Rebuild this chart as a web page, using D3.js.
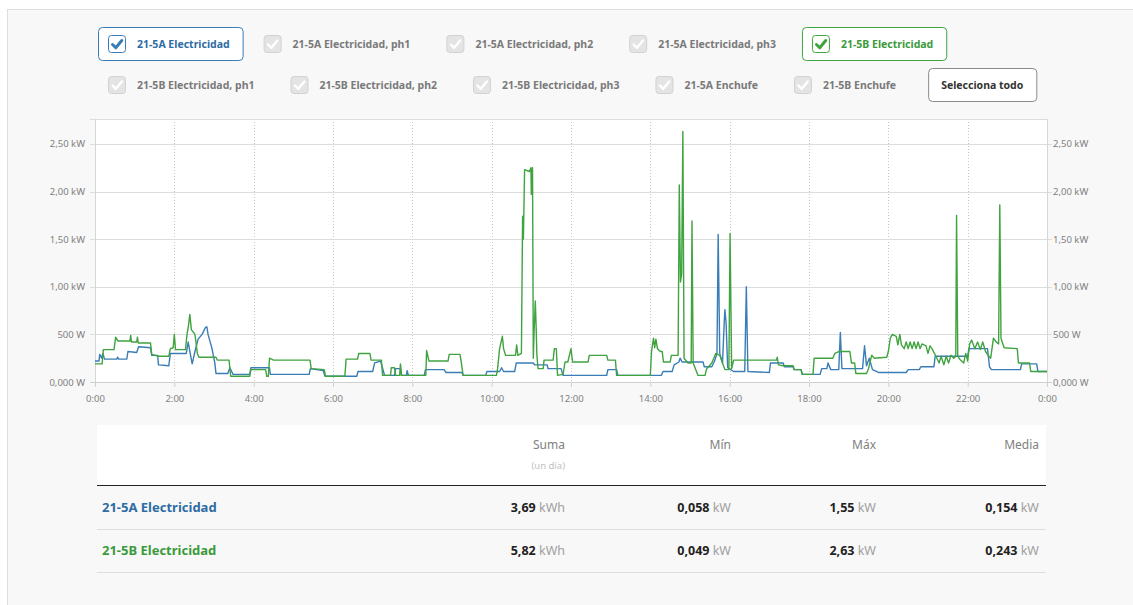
<!DOCTYPE html>
<html>
<head>
<meta charset="utf-8">
<script src="https://cdn.jsdelivr.net/npm/d3@7"></script>
<style>
  html, body { margin: 0; padding: 0; background: #fff; }
  svg { display: block; font-family: "Noto Sans", "Open Sans", sans-serif; }
</style>
</head>
<body>
<svg id="chart" width="1133" height="605"></svg>
<script>
// ---- Series shown in the selector ----
const legendItems = [
  "21-5A Electricidad", "21-5A Electricidad, ph1", "21-5A Electricidad, ph2",
  "21-5A Electricidad, ph3", "21-5B Electricidad",
  "21-5B Electricidad, ph1", "21-5B Electricidad, ph2", "21-5B Electricidad, ph3",
  "21-5A Enchufe", "21-5B Enchufe"
];
const activeSeries = ["21-5A Electricidad", "21-5B Electricidad"];
const selectAllLabel = "Selecciona todo";

// ---- 21-5A Electricidad: hour of day, power in kW ----
const hoursA = [0.00,0.10,0.12,0.17,0.20,0.24,0.55,0.57,0.60,0.80,0.83,1.05,1.10,1.40,1.43,1.58,1.60,1.86,1.90,2.30,
  2.35,2.40,2.45,2.52,2.60,2.70,2.78,2.82,2.85,2.95,3.02,3.05,3.35,3.40,3.48,3.90,3.93,4.40,4.42,5.40,
  5.43,5.75,5.80,6.60,6.63,7.00,7.05,7.20,7.30,7.55,7.58,7.70,7.72,7.85,7.87,7.90,8.30,8.33,8.80,8.85,
  9.25,9.28,9.85,9.88,10.20,10.25,10.30,10.58,10.62,11.05,11.08,11.40,11.42,11.75,11.80,12.90,12.93,13.15,13.18,14.28,
  14.32,14.55,14.60,14.72,14.75,14.80,15.33,15.36,15.55,15.62,15.68,15.71,15.75,15.82,15.86,15.88,15.91,15.95,16.10,16.38,
  16.42,16.46,17.00,17.03,17.35,17.38,17.60,17.62,17.80,17.83,18.28,18.32,18.45,18.48,18.55,18.75,18.79,18.83,19.35,19.40,
  19.45,19.52,19.60,19.75,20.45,20.50,20.78,20.82,21.15,21.18,22.00,22.03,22.50,22.55,22.60,23.33,23.36,23.74,23.77,24.00];
const kwA = [0.22,0.22,0.29,0.25,0.30,0.24,0.24,0.26,0.24,0.24,0.32,0.31,0.37,0.36,0.28,0.28,0.18,0.17,0.30,0.30,
  0.42,0.30,0.19,0.32,0.45,0.50,0.57,0.58,0.50,0.35,0.20,0.09,0.09,0.15,0.08,0.08,0.15,0.15,0.08,0.08,
  0.14,0.12,0.06,0.06,0.11,0.11,0.20,0.22,0.07,0.07,0.14,0.14,0.07,0.07,0.12,0.07,0.07,0.13,0.13,0.10,
  0.10,0.07,0.07,0.11,0.11,0.15,0.11,0.11,0.20,0.20,0.18,0.18,0.14,0.14,0.07,0.07,0.13,0.13,0.07,0.07,
  0.11,0.11,0.18,0.21,0.25,0.21,0.21,0.16,0.16,0.22,0.30,1.55,0.30,0.20,0.60,0.76,0.62,0.15,0.11,0.11,
  1.00,0.11,0.10,0.20,0.20,0.16,0.16,0.13,0.13,0.08,0.08,0.14,0.14,0.20,0.13,0.13,0.52,0.14,0.14,0.38,
  0.17,0.25,0.13,0.10,0.10,0.13,0.13,0.16,0.16,0.27,0.27,0.35,0.35,0.16,0.13,0.13,0.19,0.19,0.11,0.11];

// ---- 21-5B Electricidad: hour of day, power in kW ----
const hoursB = [0.00,0.18,0.21,0.48,0.52,0.58,0.88,0.90,0.92,1.05,1.07,1.09,1.40,1.43,1.60,1.86,1.90,1.97,2.00,2.03,
  2.28,2.32,2.36,2.39,2.43,2.52,2.58,2.62,3.05,3.08,3.38,3.42,3.90,3.93,4.30,4.33,4.37,4.40,4.50,5.42,
  5.45,5.78,5.81,6.30,6.33,6.62,6.65,6.93,6.96,7.22,7.25,7.45,7.47,7.55,7.58,7.68,7.70,7.73,8.34,8.36,
  8.42,8.90,8.93,9.20,9.23,9.28,10.12,10.15,10.20,10.27,10.30,10.35,10.60,10.63,10.66,10.75,10.78,10.80,10.83,10.95,
  10.99,11.00,11.03,11.05,11.07,11.10,11.12,11.14,11.17,11.30,11.32,11.55,11.58,11.63,11.66,11.80,11.85,11.92,12.00,12.04,
  12.43,12.46,12.90,12.93,13.12,13.15,14.00,14.03,14.08,14.11,14.14,14.18,14.25,14.30,14.33,14.50,14.53,14.70,14.73,14.76,
  14.79,14.82,14.85,14.95,15.03,15.05,15.08,15.20,15.38,15.42,15.55,15.65,15.75,15.88,15.98,16.01,16.05,16.10,17.18,17.20,
  17.23,17.35,17.60,17.63,17.80,17.83,18.10,18.13,18.60,18.65,18.75,19.03,19.07,19.15,19.18,19.45,19.50,19.58,19.65,19.96,
  20.00,20.05,20.10,20.20,20.24,20.29,20.33,20.40,20.45,20.50,20.55,20.60,20.65,20.70,20.75,20.80,20.85,20.95,21.00,21.05,
  21.10,21.20,21.28,21.33,21.40,21.46,21.52,21.58,21.65,21.70,21.72,21.75,21.80,21.90,21.95,22.00,22.05,22.10,22.18,22.25,
  22.32,22.38,22.45,22.52,22.58,22.65,22.72,22.78,22.81,22.84,22.92,23.25,23.28,23.56,23.59,24.00];
const kwB = [0.19,0.19,0.34,0.34,0.47,0.43,0.43,0.49,0.42,0.42,0.47,0.41,0.41,0.29,0.27,0.27,0.35,0.36,0.50,0.34,
  0.34,0.50,0.60,0.71,0.55,0.50,0.30,0.26,0.26,0.23,0.23,0.06,0.06,0.13,0.13,0.06,0.06,0.25,0.23,0.23,
  0.14,0.13,0.06,0.06,0.24,0.24,0.30,0.30,0.23,0.23,0.07,0.07,0.15,0.15,0.07,0.07,0.19,0.07,0.07,0.33,
  0.22,0.22,0.29,0.29,0.22,0.07,0.07,0.14,0.35,0.48,0.35,0.28,0.28,0.39,0.28,0.30,1.74,1.50,2.23,2.21,
  2.25,1.97,2.25,0.25,0.53,0.85,0.60,0.28,0.14,0.14,0.23,0.23,0.35,0.35,0.07,0.08,0.21,0.21,0.35,0.21,
  0.21,0.28,0.28,0.23,0.23,0.07,0.07,0.32,0.46,0.36,0.45,0.35,0.32,0.32,0.21,0.21,0.28,0.28,2.07,1.05,
  1.13,2.63,0.25,0.20,0.20,1.69,0.20,0.07,0.07,0.14,0.20,0.30,0.28,0.13,0.13,1.56,0.14,0.23,0.23,0.26,
  0.18,0.17,0.17,0.13,0.13,0.08,0.08,0.25,0.25,0.30,0.32,0.32,0.20,0.20,0.09,0.09,0.14,0.28,0.25,0.26,
  0.32,0.46,0.50,0.48,0.39,0.50,0.39,0.35,0.42,0.35,0.42,0.35,0.42,0.35,0.42,0.35,0.40,0.38,0.30,0.38,
  0.35,0.27,0.20,0.27,0.18,0.27,0.20,0.28,0.25,0.27,1.75,0.27,0.24,0.20,0.30,0.22,0.40,0.44,0.35,0.42,
  0.34,0.42,0.32,0.28,0.25,0.46,0.42,0.40,1.86,0.46,0.36,0.35,0.20,0.20,0.11,0.11];

// ---- Axis ticks ----
const yTickValues = [0, 0.5, 1, 1.5, 2, 2.5];
const yTickLabels = ["0,000 W", "500 W", "1,00 kW", "1,50 kW", "2,00 kW", "2,50 kW"];
const xTickValues = [0, 2, 4, 6, 8, 10, 12, 14, 16, 18, 20, 22, 24];
const xTickLabels = ["0:00", "2:00", "4:00", "6:00", "8:00", "10:00", "12:00", "14:00", "16:00", "18:00", "20:00", "22:00", "0:00"];

// ---- Summary table ----
const statHeaders = ["Suma", "Mín", "Máx", "Media"];
const statSubHeader = "(un día)";
const statRows = ["21-5A Electricidad", "21-5B Electricidad"];
const sumKWh = ["3,69", "5,82"];
const minKW = ["0,058", "0,049"];
const maxKW = ["1,55", "2,63"];
const meanKW = ["0,154", "0,243"];

const seriesColors = ["#3a7db6", "#3fa33f"];
const textColors = ["#2e6ca3", "#3a9a3a"];

const svg = d3.select("#chart");

// page frame
svg.append("rect").attr("x", 0).attr("y", 0).attr("width", 1133).attr("height", 605).attr("fill", "#fff");
svg.append("rect").attr("x", 7.5).attr("y", 9.5).attr("width", 1200).attr("height", 700)
  .attr("fill", "#f8f8f8").attr("stroke", "#dedede");

// ---- selector checkboxes ----
function checkbox(g, x, y, color) {
  g.append("rect").attr("x", x + 0.5).attr("y", y + 0.5).attr("width", 17).attr("height", 17).attr("rx", 3)
    .attr("fill", color ? "#fff" : "#e4e4e4").attr("stroke", color ? color : "#d2d2d2");
  g.append("path").attr("d", `M${x + 4.5},${y + 9.5} L${x + 7.8},${y + 12.8} L${x + 13.8},${y + 5.5}`)
    .attr("fill", "none").attr("stroke", color ? color : "#fff").attr("stroke-width", color ? 3 : 2.4)
    .attr("stroke-linecap", "round").attr("stroke-linejoin", "round");
}

const legend = svg.append("g");
const legendRows = [legendItems.slice(0, 5), legendItems.slice(5)];
legendRows.forEach((row, ri) => {
  let lx = 98;
  const rowTop = 27 + ri * 41;
  row.forEach(name => {
    const idx = activeSeries.indexOf(name);
    const g = legend.append("g").attr("transform", `translate(${lx},${rowTop})`);
    const t = g.append("text").attr("x", 39).attr("y", 21)
      .attr("font-size", 10.5).attr("font-weight", 700)
      .attr("fill", idx >= 0 ? textColors[idx] : "#7a7a7a").text(name);
    const w = t.node().getComputedTextLength();
    const boxW = idx >= 0 ? 39 + w + 13 : 39 + w + 15;
    if (idx >= 0) {
      g.insert("rect", "text").attr("x", 0.5).attr("y", 0.5).attr("width", boxW).attr("height", 33).attr("rx", 4)
        .attr("fill", "#fff").attr("stroke", seriesColors[idx]);
    }
    checkbox(g, 10, 8, idx >= 0 ? seriesColors[idx] : null);
    lx += boxW + 11;
  });
  if (ri === 1) {
    const g = legend.append("g").attr("transform", `translate(${lx + 6},${rowTop})`);
    const t = g.append("text").attr("y", 21).attr("font-size", 10.5).attr("font-weight", 700)
      .attr("fill", "#333").text(selectAllLabel);
    const w = t.node().getComputedTextLength();
    t.attr("x", 13);
    g.insert("rect", "text").attr("x", 0.5).attr("y", 0.5).attr("width", w + 26).attr("height", 33).attr("rx", 4)
      .attr("fill", "#fff").attr("stroke", "#8a8a8a");
  }
});

// ---- chart ----
const plotLeft = 95, plotRight = 1047, plotTop = 119, plotBottom = 382;
const allValues = kwA.concat(kwB);
const x = d3.scaleLinear().domain([0, 24]).range([plotLeft, plotRight]);
const y = d3.scaleLinear().domain([0, d3.max(allValues) * 1.05]).range([plotBottom, plotTop]);

svg.append("rect").attr("x", plotLeft).attr("y", plotTop).attr("width", plotRight - plotLeft)
  .attr("height", plotBottom - plotTop).attr("fill", "#fff");

// vertical dotted grid
svg.append("g").selectAll("line").data(xTickValues.slice(1, -1)).join("line")
  .attr("x1", d => Math.round(x(d)) + 0.5).attr("x2", d => Math.round(x(d)) + 0.5)
  .attr("y1", plotTop).attr("y2", plotBottom)
  .attr("stroke", "#c8c8c8").attr("stroke-dasharray", "1,2");

// horizontal grid with ticks on both sides
svg.append("g").selectAll("line").data(yTickValues).join("line")
  .attr("x1", plotLeft - 5).attr("x2", plotRight + 5)
  .attr("y1", d => Math.round(y(d)) + 0.5).attr("y2", d => Math.round(y(d)) + 0.5)
  .attr("stroke", d => d === 0 ? "#cfcfcf" : "#dcdcdc");
svg.append("line").attr("x1", plotLeft - 5).attr("x2", plotRight).attr("y1", plotTop + 0.5).attr("y2", plotTop + 0.5).attr("stroke", "#dcdcdc");
svg.append("line").attr("x1", plotLeft + 0.5).attr("x2", plotLeft + 0.5).attr("y1", plotTop).attr("y2", plotBottom).attr("stroke", "#d6d6d6");
svg.append("line").attr("x1", plotRight + 0.5).attr("x2", plotRight + 0.5).attr("y1", plotTop).attr("y2", plotBottom).attr("stroke", "#d6d6d6");

// left and right y labels
const yAxisLeft = d3.axisLeft(y).tickValues(yTickValues).tickSize(0).tickPadding(10)
  .tickFormat((d, i) => yTickLabels[i]);
const yAxisRight = d3.axisRight(y).tickValues(yTickValues).tickSize(0).tickPadding(6)
  .tickFormat((d, i) => yTickLabels[i]);
const gl = svg.append("g").attr("transform", `translate(${plotLeft},0)`).call(yAxisLeft);
const gr = svg.append("g").attr("transform", `translate(${plotRight},0)`).call(yAxisRight);
[gl, gr].forEach(g => {
  g.select(".domain").remove();
  g.selectAll("text").attr("font-family", "Noto Sans").attr("font-size", 9.5).attr("fill", "#808080");
});

// x axis
const xAxis = d3.axisBottom(x).tickValues(xTickValues).tickSize(5).tickPadding(8)
  .tickFormat((d, i) => xTickLabels[i]);
const gx = svg.append("g").attr("transform", `translate(0,${plotBottom})`).call(xAxis);
gx.select(".domain").attr("stroke", "#cfcfcf");
gx.selectAll(".tick line").attr("stroke", "#cfcfcf");
gx.selectAll("text").attr("font-family", "Noto Sans").attr("font-size", 9.5).attr("fill", "#808080");

// lines
const line = d3.line().x(d => x(d[0])).y(d => y(d[1]));
const seriesData = [d3.zip(hoursA, kwA), d3.zip(hoursB, kwB)];
seriesData.forEach((data, i) => {
  svg.append("path").datum(data).attr("d", line).attr("fill", "none")
    .attr("stroke", seriesColors[i]).attr("stroke-width", 1.4).attr("stroke-linejoin", "round");
});

// ---- summary table ----
const tLeft = 97, tRight = 1046;
const colRight = [565, 731, 876, 1039];
const units = ["kWh", "kW", "kW", "kW"];
const cols = [sumKWh, minKW, maxKW, meanKW];

svg.append("rect").attr("x", tLeft).attr("y", 425).attr("width", tRight - tLeft).attr("height", 60).attr("fill", "#fff");
svg.append("g").selectAll("text").data(statHeaders).join("text")
  .attr("x", (d, i) => colRight[i]).attr("y", 449).attr("text-anchor", "end")
  .attr("font-size", 12).attr("fill", "#808080").text(d => d);
svg.append("text").attr("x", colRight[0]).attr("y", 469).attr("text-anchor", "end")
  .attr("font-size", 9.5).attr("fill", "#c0c0c0").text(statSubHeader);
svg.append("line").attr("x1", tLeft).attr("x2", tRight).attr("y1", 485.5).attr("y2", 485.5)
  .attr("stroke", "#222").attr("stroke-width", 1.2);

statRows.forEach((name, r) => {
  const by = 512 + r * 43;
  svg.append("text").attr("x", 102).attr("y", by).attr("font-size", 13).attr("font-weight", 700)
    .attr("fill", textColors[r]).text(name);
  cols.forEach((col, c) => {
    const t = svg.append("text").attr("x", colRight[c]).attr("y", by).attr("text-anchor", "end").attr("font-size", 12.5);
    t.append("tspan").attr("font-weight", 700).attr("fill", "#222").text(col[r]);
    t.append("tspan").attr("fill", "#a0a0a0").text(" " + units[c]);
  });
  svg.append("line").attr("x1", tLeft).attr("x2", tRight).attr("y1", 529.5 + r * 43).attr("y2", 529.5 + r * 43)
    .attr("stroke", "#dedede");
});
</script>
</body>
</html>
